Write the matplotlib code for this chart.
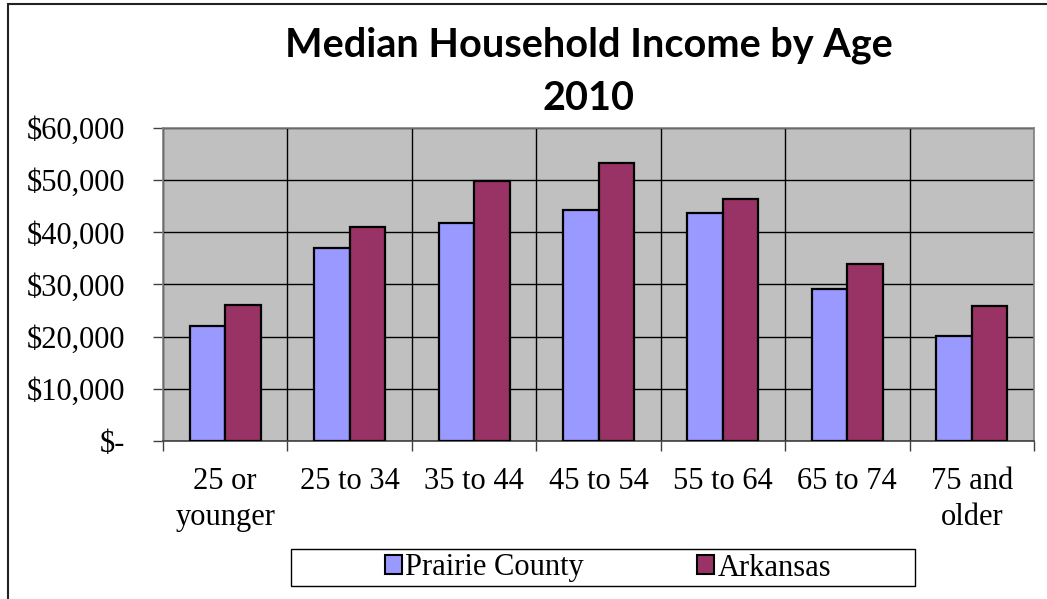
import numpy as np
import matplotlib
matplotlib.use("Agg")
import matplotlib.pyplot as plt
from matplotlib.patches import Patch, Rectangle

# Median household income by age group, 2010
age_groups = ["25 or\nyounger", "25 to 34", "35 to 44", "45 to 54",
              "55 to 64", "65 to 74", "75 and\nolder"]
prairie = [22100, 37000, 41700, 44300, 43800, 29200, 20200]
arkansas = [26000, 41100, 49900, 53200, 46400, 34000, 25800]
y_ticks = [0, 10000, 20000, 30000, 40000, 50000, 60000]
y_labels = ["$-", "$10,000", "$20,000", "$30,000", "$40,000", "$50,000", "$60,000"]

serif = "Liberation Serif"
blue = "#9999FF"
plum = "#993366"
fs = 22

fig = plt.figure(figsize=(10.47, 5.99), dpi=100)
ax = fig.add_axes([0.1557, 0.2638, 0.9876 - 0.1557, 0.7863 - 0.2638])
ax.set_facecolor("#C0C0C0")

x = np.arange(len(age_groups)) + 0.5
w = 0.285
ax.bar(x - w / 2, prairie, w, color=blue, edgecolor="black", linewidth=1.6,
       zorder=3, label="Prairie County")
ax.bar(x + w / 2, arkansas, w, color=plum, edgecolor="black", linewidth=1.6,
       zorder=3, label="Arkansas")

ax.set_xlim(0, len(age_groups))
ax.set_ylim(0, 60000)

# horizontal gridlines at the y ticks, vertical lines between categories
ax.set_yticks(y_ticks)
ax.set_yticklabels(y_labels, fontfamily=serif, fontsize=fs)
ax.set_xticks(np.arange(len(age_groups) + 1), minor=False)
ax.set_xticklabels([])
ax.set_xticks(x, minor=True)
ax.set_xticklabels(age_groups, minor=True, fontfamily=serif, fontsize=fs,
                   linespacing=1.3)
ax.tick_params(axis="x", which="minor", length=0, pad=19)
ax.tick_params(axis="x", which="major", length=7, width=1, color="#404040")
ax.tick_params(axis="y", length=7, width=1, color="#404040", pad=20)
ax.grid(True, which="major", color="black", linewidth=1, zorder=1)

for side in ["left", "bottom", "right", "top"]:
    ax.spines[side].set_color("#808080")
    ax.spines[side].set_linewidth(1.2)
ax.spines["bottom"].set_color("#404040")

fig.text(0.562, 0.924, "Median Household Income by Age", ha="center",
         va="center", fontfamily="Lato", fontweight="bold", fontsize=28.5)
fig.text(0.562, 0.836, "2010", ha="center", va="center",
         fontfamily="Lato", fontweight="bold", fontsize=28.5)

# legend box drawn separately so it can be wider than its entries
fig.patches.append(Rectangle((291 / 1047, 1 - 586 / 599), 624 / 1047, 37 / 599,
                             transform=fig.transFigure, facecolor="white",
                             edgecolor="black", linewidth=1))
handles = [Patch(facecolor=blue, edgecolor="black", linewidth=1.5, label="Prairie County"),
           Patch(facecolor=plum, edgecolor="black", linewidth=1.5, label="Arkansas")]
leg = fig.legend(handles=handles, loc="center", ncol=2,
                 bbox_to_anchor=(608 / 1047, 1 - 568 / 599),
                 frameon=False, prop={"family": serif, "size": fs},
                 handlelength=0.55, handleheight=0.55, handletextpad=0.12,
                 columnspacing=3.7, borderpad=0, borderaxespad=0)

# outer chart border (runs off the right and bottom edges)
fig.patches.append(Rectangle((8 / 1047, -0.1), 1.2, 1 - 4 / 599 + 0.1,
                             transform=fig.transFigure, fill=False,
                             edgecolor="#222222", linewidth=1.5))

fig.savefig("out.png", dpi=100)
